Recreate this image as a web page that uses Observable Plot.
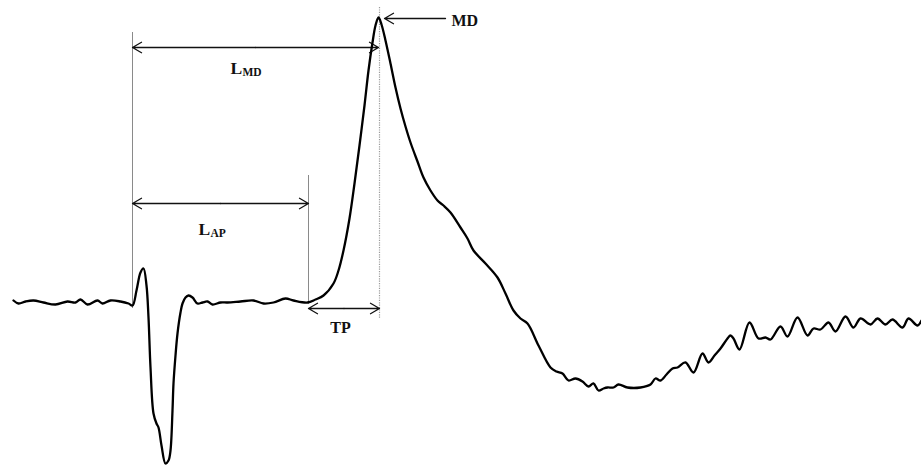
<!DOCTYPE html>
<html>
<head>
<meta charset="utf-8">
<script src="https://cdn.jsdelivr.net/npm/d3@7"></script>
<script src="https://cdn.jsdelivr.net/npm/@observablehq/plot@0.6"></script>
<style>
  html, body { margin: 0; padding: 0; background: #fff; }
  #chart svg { display: block; }
</style>
</head>
<body>
<div id="chart"></div>
<script>
// Waveform: time (arbitrary units) and amplitude (arbitrary units)
const time = [
  13,18,25,33,43,55,67,75,80,87,
  97,102,110,120,128,132,136,140,143,146,
  148,150,153,156,158,161,165,168,170,172,
  173,175,177,180,182,185,188,192,197,202,
  207,212,220,227,240,253,263,273,285,293,
  307,315,323,333,338,343,349,354,359,364,
  368,372,375,378,381,385,390,395,400,405,
  410,417,423,430,437,443,450,460,467,473,
  485,497,505,513,520,527,538,550,556,562,
  568,575,582,588,593,598,603,607,613,618,
  627,640,650,655,660,666,672,677,685,693,
  702,708,714,720,727,730,733,739,749,758,
  765,770,780,787,797,807,813,820,828,835,
  845,853,860,870,877,885,892,902,908,917,
  921
];
const amplitude = [
  0,-3,-1,0,-2,-4,-1,-2,1,-4,
  0,-3,0,-1,-3,-5,10,28,32,15,
  -17,-67,-113,-123,-127,-145,-163,-160,-150,-110,
  -83,-55,-33,-12,-3,3,5,3,-3,-2,
  -1,-4,-2,-2,-1,0,-3,-2,2,0,
  -2,1,5,17,30,50,82,117,155,195,
  230,258,275,283,276,260,237,213,192,174,
  158,139,123,110,100,95,88,73,62,50,
  37,23,7,-10,-18,-23,-45,-67,-71,-73,
  -80,-78,-81,-86,-83,-90,-88,-87,-87,-84,
  -87,-87,-84,-78,-80,-74,-68,-67,-62,-72,
  -53,-62,-55,-48,-38,-35,-38,-49,-22,-38,
  -37,-39,-26,-36,-17,-35,-28,-29,-22,-31,
  -16,-27,-18,-24,-18,-24,-19,-27,-18,-25,
  -20
];

// Reference guides (vertical markers): time, from amplitude, to amplitude
const guideTime = [132, 308];
const guideFrom = [268, 125];
const guideTo = [-8, -4];
// Peak marker (dotted)
const peakTime = 379;
const peakFrom = 293;
const peakTo = -18;

// Interval spans (double-headed arrows)
const spanNames = ["LMD", "LAP", "TP"];
const spanStart = [132, 132, 308];
const spanEnd = [378, 308, 379];
const spanLevel = [253, 97, -8];

// MD pointer
const mdFrom = 445, mdTo = 384, mdLevel = 282;

// Labels
const labelMain = ["L", "L", "TP", "MD"];
const labelSub = ["MD", "AP", "", ""];
const labelTime = [230, 198, 340, 451];
const labelLevel = [232.5, 71.6, -27, 280];

const wave = time.map((t, i) => ({t, a: amplitude[i]}));
const guides = guideTime.map((t, i) => ({t, a1: guideFrom[i], a2: guideTo[i]}));
const halves = [];
spanNames.forEach((n, i) => {
  const mid = (spanStart[i] + spanEnd[i]) / 2;
  halves.push({x1: mid, x2: spanStart[i], y: spanLevel[i]});
  halves.push({x1: mid, x2: spanEnd[i], y: spanLevel[i]});
});
const labels = labelMain.map((m, i) => ({m, s: labelSub[i], t: labelTime[i], a: labelLevel[i]}));
const font = "'Liberation Serif', 'Times New Roman', serif";

const chart = Plot.plot({
  width: 921,
  height: 468,
  margin: 0,
  x: {domain: [0, 921], axis: null},
  y: {domain: [-168, 300], axis: null},
  style: {background: "#fff", fontFamily: font},
  marks: [
    Plot.ruleX(guides, {x: "t", y1: "a1", y2: "a2", stroke: "#8a8a8a", strokeWidth: 1}),
    Plot.ruleX([peakTime], {x: d => d, y1: peakFrom, y2: peakTo, stroke: "#9a9a9a", strokeWidth: 1.2, strokeDasharray: "1.2,1.2"}),
    Plot.arrow(halves, {x1: "x1", x2: "x2", y1: "y", y2: "y", stroke: "#111", strokeWidth: 1.3, headLength: 12, headAngle: 60}),
    Plot.arrow([0], {x1: mdFrom, x2: mdTo, y1: mdLevel, y2: mdLevel, stroke: "#111", strokeWidth: 1.3, headLength: 12, headAngle: 60}),
    Plot.line(wave, {x: "t", y: "a", stroke: "#000", strokeWidth: 2.3, curve: "catmull-rom"}),
    Plot.text(labels.filter(d => d.s), {x: "t", y: "a", text: "m", textAnchor: "start", fontSize: 17.5, fontWeight: "bold", fill: "#111"}),
    Plot.text(labels.filter(d => d.s), {x: "t", y: "a", text: "s", textAnchor: "start", dx: 12, dy: 4.8, fontSize: 11.5, fontWeight: "bold", fill: "#111"}),
    Plot.text(labels.filter(d => d.m === "TP"), {x: "t", y: "a", text: "m", textAnchor: "middle", fontSize: 16, fontWeight: "bold", fill: "#111"}),
    Plot.text(labels.filter(d => d.m === "MD"), {x: "t", y: "a", text: "m", textAnchor: "start", fontSize: 16, fontWeight: "bold", fill: "#111"})
  ]
});
document.getElementById("chart").appendChild(chart);
</script>
</body>
</html>
